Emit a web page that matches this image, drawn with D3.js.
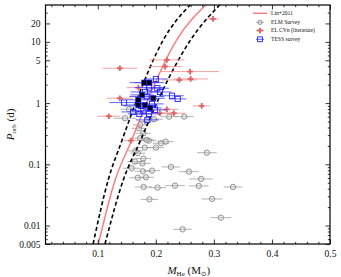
<!DOCTYPE html>
<html><head><meta charset="utf-8">
<script src="https://cdn.jsdelivr.net/npm/d3@7"></script>
<style>
body{margin:0;background:#fff}
text{font-family:"Liberation Serif","DejaVu Serif",serif;fill:#111}
</style>
</head><body><script>
const W = 341, H = 277;

// Lin+2011 relation and its envelope (mass at given period)
const curveP  = [0.005, 0.0556, 0.25, 1.18, 10.8, 40];
const linM    = [0.101, 0.130, 0.1585, 0.187, 0.236, 0.286];
const loM     = [0.092, 0.118, 0.142, 0.168, 0.213, 0.259];
const hiM     = [0.1125, 0.144, 0.174, 0.205, 0.260, 0.310];

// ELM survey
const elmM = [0.288,0.226,0.257,0.278,0.233,0.274,0.333,0.179,0.203,0.189,0.297,0.312,0.246,
  0.1585,0.169,0.183,0.1775,0.1935,0.177,0.164,0.1785,0.169,0.181,0.200,0.209,0.217,0.188,0.184,
  0.173,0.1785,0.171,0.184,0.173,0.197,0.223,0.249,0.147,0.165,0.154];
const elmP = [0.155,0.0906,0.0759,0.0577,0.0449,0.0444,0.0427,0.0427,0.0416,0.0268,0.0272,0.01346,0.00869,
  0.0863,0.0605,0.0614,0.0771,0.0789,0.104,0.111,0.124,0.152,0.1875,0.1875,0.221,0.235,0.244,0.25,
  0.267,0.322,0.388,0.498,0.44,0.546,0.601,0.601,0.566,0.166,0.794];
const elmE = [0.017,0.016,0.017,0.02,0.017,0.017,0.016,0.015,0.015,0.015,0.018,0.018,0.016,
  0.015,0.015,0.014,0.014,0.014,0.014,0.013,0.013,0.013,0.013,0.014,0.014,0.014,0.013,0.013,
  0.013,0.013,0.013,0.014,0.013,0.015,0.015,0.016,0.02,0.013,0.015];

// EL CVn (literature)
const elcM = [0.138,0.119,0.138,0.170,0.259,0.260,0.2405,0.279,0.231,0.207,0.219,0.219,0.216,0.2985,0.157];
const elcP = [3.71,0.61,1.2,1.79,3.27,2.48,2.39,0.9,0.684,0.684,0.79,5.08,3.95,23.7,0.244];
const elcE = [0.030,0.02,0.022,0.02,0.05,0.03,0.03,0.015,0.02,0.02,0.02,0.03,0.03,0.01,0.012];

// TESS survey (open and filled squares)
const tessM = [0.2003,0.1883,0.2026,0.2279,0.2377,0.1453,0.1843,0.1785,0.1716,0.1883,0.1854,0.1608,
  0.2072,0.1935,0.1814,0.1986,0.1745];
const tessP = [2.48,1.79,1.75,1.32,1.17,1.02,1.28,0.753,0.665,0.665,0.531,0.718,1.52,0.97,1.52,0.775,0.9];
const tessE = [0.02,0.025,0.02,0.02,0.015,0.025,0.03,0.02,0.02,0.02,0.02,0.02,0.02,0.02,0.025,0.02,0.03];
const tessFM = [0.1802,0.1888,0.1699,0.1699,0.1957,0.1814,0.1762,0.19];
const tessFP = [2.16,2.16,1.13,0.93,1.2,0.93,1.36,0.834];
const tessFE = [0.025,0.025,0.02,0.02,0.02,0.02,0.02,0.02];

const xTicks = [0.1,0.2,0.3,0.4,0.5];
const yTicks = [0.005,0.01,0.1,1,5,10,20];

const L = 45.5, R = 330, T = 5, B = 244;
const x = d3.scaleLinear().domain([0.01,0.5]).range([L,R]);
const y = d3.scaleLog().domain([0.005,40]).range([B,T]);

const svg = d3.select("body").append("svg").attr("width",W).attr("height",H);
const plot = svg.append("g");
svg.append("clipPath").attr("id","c").append("rect")
  .attr("x",L).attr("y",T).attr("width",R-L).attr("height",B-T);
const g = plot.append("g").attr("clip-path","url(#c)");

function errbars(sel, M, P, E, color){
  sel.selectAll(null).data(M).enter().append("line")
    .attr("x1",(d,i)=>x(d-E[i])).attr("x2",(d,i)=>x(d+E[i]))
    .attr("y1",(d,i)=>y(P[i])).attr("y2",(d,i)=>y(P[i]))
    .attr("stroke",color).attr("stroke-width",0.8);
}

// ELM survey
errbars(g, elmM, elmP, elmE, "#a0a0a0");
g.selectAll(null).data(elmM).enter().append("circle")
  .attr("cx",d=>x(d)).attr("cy",(d,i)=>y(elmP[i])).attr("r",2.7)
  .attr("fill","rgba(200,200,200,0.35)").attr("stroke","#808080").attr("stroke-width",0.8);

// relation curves
const line = d3.line().curve(d3.curveMonotoneX);
function curve(M){ return line(M.map((m,i)=>[x(m), y(curveP[i])])); }
g.append("path").attr("d",curve(linM)).attr("fill","none").attr("stroke","#ff7878").attr("stroke-width",1.4);
[loM, hiM].forEach(M=>{
  g.append("path").attr("d",curve(M)).attr("fill","none").attr("stroke","#000")
    .attr("stroke-width",1.6).attr("stroke-dasharray","4,2.6");
});

// EL CVn
errbars(g, elcM, elcP, elcE, "#f28c8c");
const cross = d3.symbol(d3.symbolCross, 18);
g.selectAll(null).data(elcM).enter().append("path")
  .attr("d",cross).attr("transform",(d,i)=>`translate(${x(d)},${y(elcP[i])})`)
  .attr("fill","#e06464");

// TESS
errbars(g, tessM, tessP, tessE, "#3b3bff");
errbars(g, tessFM, tessFP, tessFE, "#3b3bff");
g.selectAll(null).data(tessM).enter().append("rect")
  .attr("x",d=>x(d)-2.6).attr("y",(d,i)=>y(tessP[i])-2.6).attr("width",5.2).attr("height",5.2)
  .attr("fill","none").attr("stroke","#1f1fff").attr("stroke-width",0.9);
g.selectAll(null).data(tessFM).enter().append("rect")
  .attr("x",d=>x(d)-2.6).attr("y",(d,i)=>y(tessFP[i])-2.6).attr("width",5.2).attr("height",5.2)
  .attr("fill","#000010").attr("stroke","#1f1fff").attr("stroke-width",0.7);

// axes (ticks inward on all sides)
const xMinor = d3.range(0.02,0.5,0.02).filter(v=>Math.abs(v*10-Math.round(v*10))>1e-6);
const yMinor = [];
[0.001,0.01,0.1,1,10].forEach(dec=>{ for(let k=2;k<=9;k++){ const v=dec*k; if(v>0.005&&v<40&&!yTicks.some(t=>Math.abs(t-v)<1e-9)) yMinor.push(v);} });

function ax(axis, tr, vals, size, fmt, pad){
  const a = plot.append("g").attr("transform",tr)
    .call(axis.tickValues(vals).tickSize(-size).tickPadding(pad||4).tickFormat(fmt||""));
  a.select(".domain").remove();
  a.selectAll("line").attr("stroke","#000").attr("stroke-width",0.8);
  a.selectAll("text").attr("font-size",9.5).attr("font-family","Liberation Serif, serif").attr("fill","#222");
  return a;
}
ax(d3.axisBottom(x), `translate(0,${B})`, xTicks, 4.5, d=>String(d), 6);
ax(d3.axisBottom(x), `translate(0,${B})`, xMinor, 2.2);
ax(d3.axisTop(x), `translate(0,${T})`, xTicks, 4.5);
ax(d3.axisTop(x), `translate(0,${T})`, xMinor, 2.2);
ax(d3.axisLeft(y), `translate(${L},0)`, yTicks, 4.5, d=>String(d), 5);
ax(d3.axisLeft(y), `translate(${L},0)`, yMinor, 2.2);
ax(d3.axisRight(y), `translate(${R},0)`, yTicks, 4.5);
ax(d3.axisRight(y), `translate(${R},0)`, yMinor, 2.2);

plot.append("rect").attr("x",L).attr("y",T).attr("width",R-L).attr("height",B-T)
  .attr("fill","none").attr("stroke","#000").attr("stroke-width",1.2);

// axis labels
const xl = svg.append("text").attr("x",(L+R)/2+1).attr("y",274).attr("text-anchor","middle").attr("font-size",11);
xl.append("tspan").attr("font-style","italic").text("M");
xl.append("tspan").attr("font-size",7).attr("dy",2).text("He");
xl.append("tspan").attr("dy",-2).text(" (M");
xl.append("tspan").attr("font-size",6.5).attr("dy",2).attr("font-family","DejaVu Sans").text("\u2299");
xl.append("tspan").attr("dy",-2).text(")");

const yl = svg.append("text").attr("transform",`translate(14,${(T+B)/2}) rotate(-90)`)
  .attr("text-anchor","middle").attr("font-size",11);
yl.append("tspan").attr("font-style","italic").text("P");
yl.append("tspan").attr("font-size",7).attr("dy",2).text("orb");
yl.append("tspan").attr("dy",-2).text(" (d)");

// legend
const lg = svg.append("g").attr("font-size",5.6);
const ly = [13.3, 22.3, 30.5, 39.3];
lg.append("line").attr("x1",253).attr("x2",267).attr("y1",ly[0]).attr("y2",ly[0]).attr("stroke","#ff7878").attr("stroke-width",1.4);
lg.append("line").attr("x1",256).attr("x2",264).attr("y1",ly[1]).attr("y2",ly[1]).attr("stroke","#a0a0a0").attr("stroke-width",0.8);
lg.append("circle").attr("cx",260).attr("cy",ly[1]).attr("r",2.2).attr("fill","rgba(200,200,200,0.35)").attr("stroke","#808080").attr("stroke-width",0.8);
lg.append("line").attr("x1",256).attr("x2",264).attr("y1",ly[2]).attr("y2",ly[2]).attr("stroke","#f28c8c").attr("stroke-width",0.8);
lg.append("path").attr("d",cross).attr("transform",`translate(260,${ly[2]})`).attr("fill","#e06464");
lg.append("line").attr("x1",256).attr("x2",264).attr("y1",ly[3]).attr("y2",ly[3]).attr("stroke","#3b3bff").attr("stroke-width",0.8);
lg.append("rect").attr("x",257.6).attr("y",ly[3]-2.4).attr("width",4.8).attr("height",4.8).attr("fill","none").attr("stroke","#1f1fff").attr("stroke-width",0.9);
["Lin+2011","ELM Survey","EL CVn (literature)","TESS survey"].forEach((t,i)=>{
  lg.append("text").attr("x",271).attr("y",ly[i]).attr("dy","0.35em").text(t);
});
</script></body></html>
